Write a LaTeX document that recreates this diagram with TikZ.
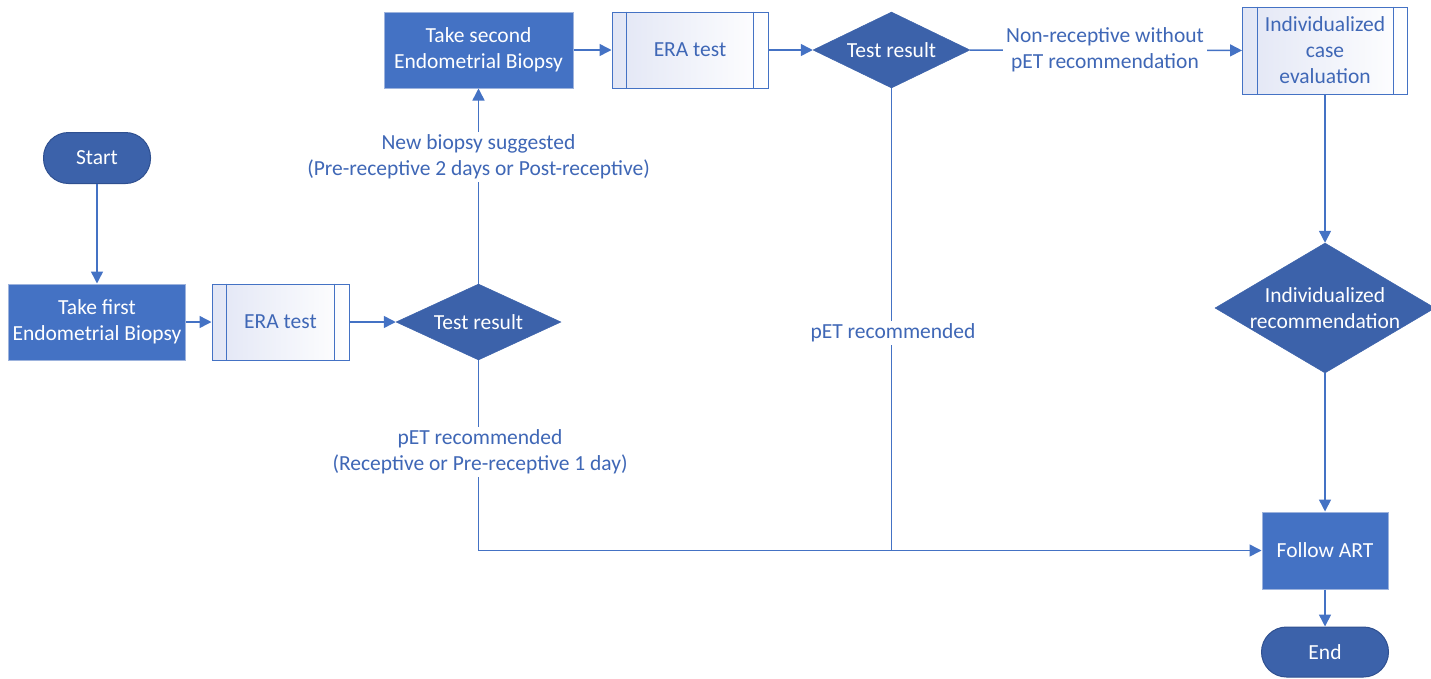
\documentclass[tikz,border=0pt]{standalone}
\usepackage{fontspec}
\setmainfont{Carlito}
\usetikzlibrary{shapes.geometric,arrows.meta,calc}
\definecolor{boxblue}{HTML}{4472C4}
\definecolor{darkblue}{HTML}{3C62AA}
\definecolor{darkedge}{HTML}{2F5090}
\definecolor{lightedge}{HTML}{9DB3DD}
\definecolor{txtblue}{HTML}{3F67B6}
\definecolor{lav}{HTML}{E2E6F5}
\begin{document}
\begin{tikzpicture}[x=1pt,y=-1pt,
 base/.style={font=\fontsize{21.5}{26}\selectfont, align=center, inner sep=0pt},
 procbox/.style={base, rectangle, fill=boxblue, draw=lightedge, line width=1pt, text=white, minimum height=76pt},
 term/.style={base, rectangle, rounded corners=25pt, fill=darkblue, draw=darkedge, line width=1pt, text=white, minimum width=107pt, minimum height=51pt},
 dec/.style={base, diamond, shape aspect=2, inner sep=-6pt, fill=darkblue, draw=darkblue, line width=0.5pt, text=white, minimum width=165pt, minimum height=76pt},
 subproc/.style={base, rectangle, left color=lav, right color=white, draw=boxblue, line width=1pt, text=txtblue, minimum height=76pt},
 lbl/.style={base, fill=white, text=txtblue, inner sep=3pt},
 conn/.style={draw=boxblue, line width=1.5pt, -{Triangle[length=12pt,width=12pt]}},
 plainline/.style={draw=boxblue, line width=1.5pt}
]
\useasboundingbox (0,0) rectangle (1431,678);

% nodes
\node[term] (start) at (97,158) {Start};
\node[procbox, minimum width=177pt] (first) at (97,322) {Take first\\Endometrial Biopsy};
\node[subproc, minimum width=137pt] (era1) at (280.5,322) {ERA test};
\node[dec] (tr1) at (478.5,322) {Test result};
\node[procbox, minimum width=189pt] (second) at (478.5,50) {Take second\\Endometrial Biopsy};
\node[subproc, minimum width=156pt] (era2) at (690,50) {ERA test};
\node[dec, minimum width=157pt] (tr2) at (891.5,50) {Test result};
\node[subproc, minimum width=165pt, minimum height=87pt] (ice) at (1325,50.5) {Individualized\\case\\evaluation};
\node[dec, minimum width=220pt, minimum height=130pt, inner sep=-16pt] (irec) at (1325,308) {Individualized\\recommendation};
\node[procbox, minimum width=126pt, minimum height=77pt] (art) at (1325,550.5) {Follow ART};
\node[term, minimum width=127pt, minimum height=50pt] (end) at (1325,652) {End};

% inner lines of subprocess boxes
\foreach \n in {era1,era2,ice}{
  \draw[boxblue, line width=1pt] ([xshift=15pt]\n.north west) -- ([xshift=15pt]\n.south west);
  \draw[boxblue, line width=1pt] ([xshift=-15pt]\n.north east) -- ([xshift=-15pt]\n.south east);
}

% connectors
\draw[conn] (start) -- (first);
\draw[conn] (first) -- (era1);
\draw[conn] (era1) -- (tr1);
\draw[conn] (tr1) -- (second);
\draw[conn] (second) -- (era2);
\draw[conn] (era2) -- (tr2);
\draw[conn] (tr2) -- (ice);
\draw[conn] (ice) -- (irec);
\draw[conn] (irec) -- (art);
\draw[conn] (art) -- (end);
\draw[conn] (tr1.south) |- (art.west);
\coordinate (join) at (tr2.south |- art.west);
\draw[plainline] (tr2.south) -- (join);

% labels
\node[lbl] (l1) at (478.5,157) {New biopsy suggested\\(Pre-receptive 2 days or Post-receptive)};
\node[lbl] (l2) at (1105,50) {Non-receptive without\\pET recommendation};
\node[lbl] (l3) at (480,452) {pET recommended\\(Receptive or Pre-receptive 1 day)};
\node[lbl] (l4) at (893,333) {pET recommended};
\end{tikzpicture}
\end{document}
